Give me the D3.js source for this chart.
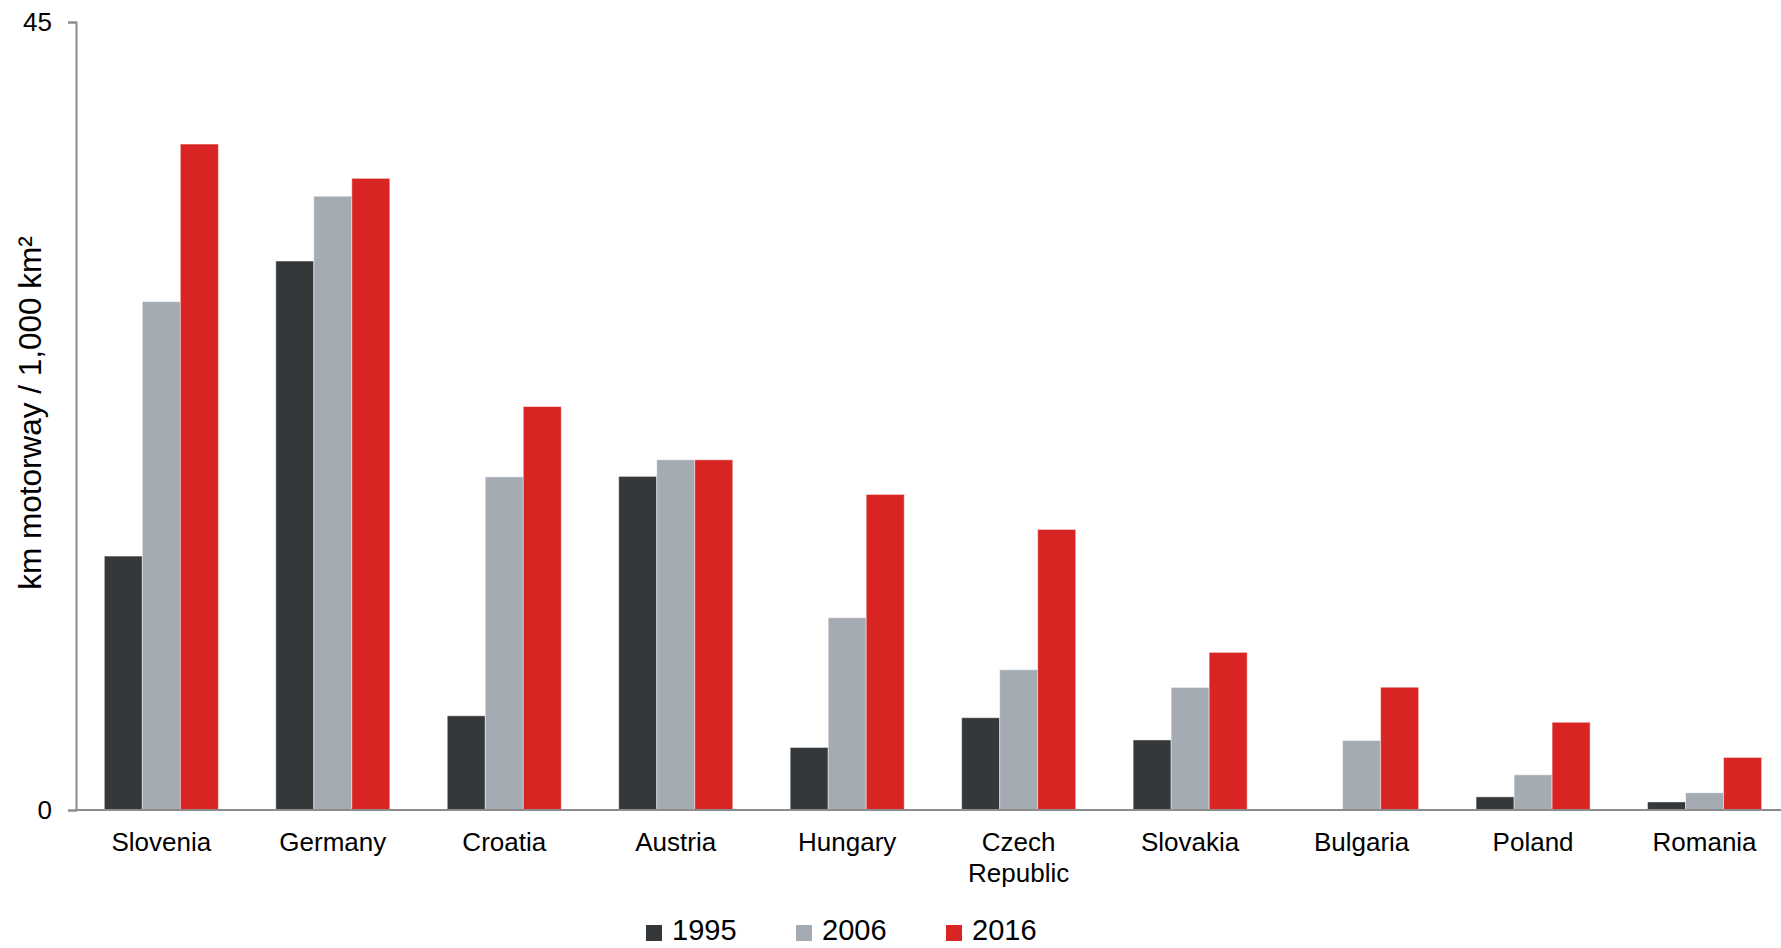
<!DOCTYPE html>
<html>
<head>
<meta charset="utf-8">
<script src="https://cdn.jsdelivr.net/npm/d3@7"></script>
<style>
  body { margin: 0; background: #fff; }
  text { font-family: "Liberation Sans", Arial, sans-serif; fill: #000; }
</style>
</head>
<body>
<div id="chart"></div>
<script>
  const countries = ["Slovenia", "Germany", "Croatia", "Austria", "Hungary", "Czech Republic", "Slovakia", "Bulgaria", "Poland", "Romania"];
  const years = ["1995", "2006", "2016"];
  const v1995 = [14.5, 31.35, 5.38, 19.05, 3.57, 5.27, 4.0, 0, 0.75, 0.46];
  const v2006 = [29.03, 35.05, 19.02, 20.0, 10.98, 8.01, 7.0, 3.97, 2.01, 0.98];
  const v2016 = [38.03, 36.07, 23.04, 20.0, 18.02, 16.02, 9.0, 7.01, 5.01, 3.0];
  const yTicks = [0, 45];
  const colors = ["#35383b", "#a4abb2", "#d82523"];

  const width = 1781;
  const height = 948;
  const margin = { top: 22, left: 76, bottom: 138 };
  const y0 = height - margin.bottom;

  const series = [v1995, v2006, v2016];
  const data = countries.map((c, i) => ({
    country: c,
    values: years.map((yr, j) => ({ year: yr, value: series[j][i] })),
  }));

  const svg = d3
    .select("#chart")
    .append("svg")
    .attr("width", width)
    .attr("height", height);

  const x = d3
    .scaleBand()
    .domain(countries)
    .range([75.6, 1790.3])
    .paddingInner(0.335)
    .paddingOuter(0.1675);

  const xSub = d3.scaleBand().domain(years).range([0, x.bandwidth()]);

  const y = d3.scaleLinear().domain([0, 45]).range([y0, margin.top]);

  // bars
  svg
    .append("g")
    .selectAll("g")
    .data(data)
    .join("g")
    .attr("transform", (d) => `translate(${x(d.country)},0)`)
    .selectAll("rect")
    .data((d) => d.values.filter((v) => v.value > 0))
    .join("rect")
    .attr("x", (d) => xSub(d.year))
    .attr("width", xSub.bandwidth())
    .attr("y", (d) => y(d.value))
    .attr("height", (d) => y0 - y(d.value))
    .attr("fill", (d) => colors[years.indexOf(d.year)])
    .attr("stroke", "#fff")
    .attr("stroke-opacity", 0.45)
    .attr("stroke-width", 1);

  // y axis
  const yAxis = svg
    .append("g")
    .attr("transform", `translate(${margin.left},0)`)
    .call(d3.axisLeft(y).tickValues(yTicks).tickSize(8).tickPadding(16));
  yAxis.select(".domain").attr("stroke", "#8c8c8c").attr("stroke-width", 2);
  yAxis.selectAll(".tick line").attr("stroke", "#8c8c8c").attr("stroke-width", 2);
  yAxis.selectAll(".tick text").attr("font-size", "26px").attr("font-family", "Liberation Sans, Arial, sans-serif").attr("fill", "#000");

  // x axis line
  svg
    .append("line")
    .attr("x1", margin.left)
    .attr("x2", width)
    .attr("y1", y0)
    .attr("y2", y0)
    .attr("stroke", "#8c8c8c")
    .attr("stroke-width", 2);

  // x labels
  svg
    .append("g")
    .selectAll("text")
    .data(countries)
    .join("text")
    .attr("x", (d) => x(d) + x.bandwidth() / 2)
    .attr("y", 851)
    .attr("text-anchor", "middle")
    .attr("font-size", "26px")
    .each(function (d) {
      const words = d.split(" ");
      d3.select(this)
        .selectAll("tspan")
        .data(words)
        .join("tspan")
        .attr("x", x(d) + x.bandwidth() / 2)
        .attr("dy", (w, i) => (i === 0 ? 0 : 31))
        .text((w) => w);
    });

  // y label
  svg
    .append("text")
    .attr("transform", `translate(41, 413) rotate(-90)`)
    .attr("text-anchor", "middle")
    .attr("font-size", "31.5px")
    .text("km motorway / 1,000 km²");

  // legend
  const legend = svg
    .append("g")
    .selectAll("g")
    .data(years)
    .join("g")
    .attr("transform", (d, i) => `translate(${646 + i * 150}, 0)`);
  legend
    .append("rect")
    .attr("y", 925)
    .attr("width", 16)
    .attr("height", 16)
    .attr("fill", (d, i) => colors[i]);
  legend
    .append("text")
    .attr("x", 26)
    .attr("y", 940)
    .attr("font-size", "29px")
    .text((d) => d);
</script>
</body>
</html>
